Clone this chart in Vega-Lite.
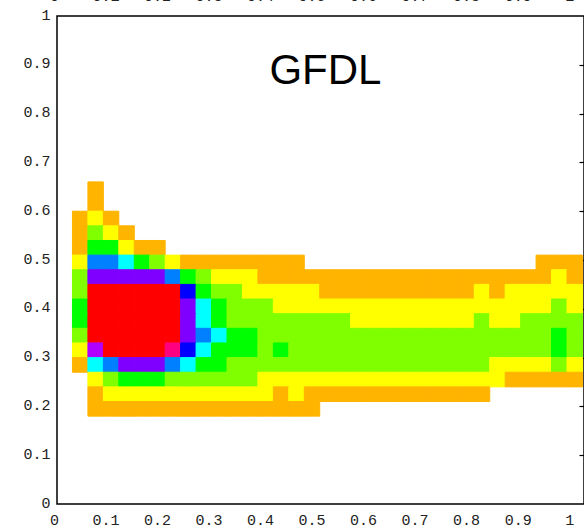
{
  "$schema": "https://vega.github.io/schema/vega-lite/v6.json",
  "width": 527,
  "height": 488,
  "autosize": {"type": "none"},
  "padding": {"left": 57, "top": 16, "right": 0, "bottom": 26},
  "background": "white",
  "config": {"view": {"stroke": "#000000", "strokeWidth": 1.5}},
  "layer": [
    {
      "data": {"values": [
        {"x":0.06,"x2":0.09,"y":0.63,"y2":0.66,"lev":1},
        {"x":0.06,"x2":0.09,"y":0.6,"y2":0.63,"lev":1},
        {"x":0.03,"x2":0.06,"y":0.57,"y2":0.6,"lev":1},
        {"x":0.06,"x2":0.09,"y":0.57,"y2":0.6,"lev":2},
        {"x":0.09,"x2":0.12,"y":0.57,"y2":0.6,"lev":1},
        {"x":0.03,"x2":0.06,"y":0.54,"y2":0.57,"lev":1},
        {"x":0.06,"x2":0.09,"y":0.54,"y2":0.57,"lev":3},
        {"x":0.09,"x2":0.12,"y":0.54,"y2":0.57,"lev":2},
        {"x":0.12,"x2":0.15,"y":0.54,"y2":0.57,"lev":1},
        {"x":0.03,"x2":0.06,"y":0.51,"y2":0.54,"lev":1},
        {"x":0.06,"x2":0.09,"y":0.51,"y2":0.54,"lev":4},
        {"x":0.09,"x2":0.12,"y":0.51,"y2":0.54,"lev":4},
        {"x":0.12,"x2":0.15,"y":0.51,"y2":0.54,"lev":2},
        {"x":0.15,"x2":0.18,"y":0.51,"y2":0.54,"lev":1},
        {"x":0.18,"x2":0.21,"y":0.51,"y2":0.54,"lev":1},
        {"x":0.03,"x2":0.06,"y":0.48,"y2":0.51,"lev":2},
        {"x":0.06,"x2":0.09,"y":0.48,"y2":0.51,"lev":6},
        {"x":0.09,"x2":0.12,"y":0.48,"y2":0.51,"lev":6},
        {"x":0.12,"x2":0.15,"y":0.48,"y2":0.51,"lev":5},
        {"x":0.15,"x2":0.18,"y":0.48,"y2":0.51,"lev":4},
        {"x":0.18,"x2":0.21,"y":0.48,"y2":0.51,"lev":3},
        {"x":0.21,"x2":0.24,"y":0.48,"y2":0.51,"lev":2},
        {"x":0.24,"x2":0.27,"y":0.48,"y2":0.51,"lev":1},
        {"x":0.27,"x2":0.3,"y":0.48,"y2":0.51,"lev":1},
        {"x":0.3,"x2":0.33,"y":0.48,"y2":0.51,"lev":1},
        {"x":0.33,"x2":0.36,"y":0.48,"y2":0.51,"lev":1},
        {"x":0.36,"x2":0.39,"y":0.48,"y2":0.51,"lev":1},
        {"x":0.39,"x2":0.42,"y":0.48,"y2":0.51,"lev":1},
        {"x":0.42,"x2":0.45,"y":0.48,"y2":0.51,"lev":1},
        {"x":0.45,"x2":0.48,"y":0.48,"y2":0.51,"lev":1},
        {"x":0.93,"x2":0.96,"y":0.48,"y2":0.51,"lev":1},
        {"x":0.96,"x2":0.99,"y":0.48,"y2":0.51,"lev":1},
        {"x":0.99,"x2":1.02,"y":0.48,"y2":0.51,"lev":1},

        {"x":0.03,"x2":0.06,"y":0.45,"y2":0.48,"lev":3},
        {"x":0.06,"x2":0.09,"y":0.45,"y2":0.48,"lev":8},
        {"x":0.09,"x2":0.12,"y":0.45,"y2":0.48,"lev":8},
        {"x":0.12,"x2":0.15,"y":0.45,"y2":0.48,"lev":8},
        {"x":0.15,"x2":0.18,"y":0.45,"y2":0.48,"lev":8},
        {"x":0.18,"x2":0.21,"y":0.45,"y2":0.48,"lev":8},
        {"x":0.21,"x2":0.24,"y":0.45,"y2":0.48,"lev":6},
        {"x":0.24,"x2":0.27,"y":0.45,"y2":0.48,"lev":4},
        {"x":0.27,"x2":0.3,"y":0.45,"y2":0.48,"lev":3},
        {"x":0.3,"x2":0.33,"y":0.45,"y2":0.48,"lev":2},
        {"x":0.33,"x2":0.36,"y":0.45,"y2":0.48,"lev":2},
        {"x":0.36,"x2":0.39,"y":0.45,"y2":0.48,"lev":2},
        {"x":0.39,"x2":0.42,"y":0.45,"y2":0.48,"lev":1},
        {"x":0.42,"x2":0.45,"y":0.45,"y2":0.48,"lev":1},
        {"x":0.45,"x2":0.48,"y":0.45,"y2":0.48,"lev":1},
        {"x":0.48,"x2":0.51,"y":0.45,"y2":0.48,"lev":1},
        {"x":0.51,"x2":0.54,"y":0.45,"y2":0.48,"lev":1},
        {"x":0.54,"x2":0.57,"y":0.45,"y2":0.48,"lev":1},
        {"x":0.57,"x2":0.6,"y":0.45,"y2":0.48,"lev":1},
        {"x":0.6,"x2":0.63,"y":0.45,"y2":0.48,"lev":1},
        {"x":0.63,"x2":0.66,"y":0.45,"y2":0.48,"lev":1},
        {"x":0.66,"x2":0.69,"y":0.45,"y2":0.48,"lev":1},
        {"x":0.69,"x2":0.72,"y":0.45,"y2":0.48,"lev":1},
        {"x":0.72,"x2":0.75,"y":0.45,"y2":0.48,"lev":1},
        {"x":0.75,"x2":0.78,"y":0.45,"y2":0.48,"lev":1},
        {"x":0.78,"x2":0.81,"y":0.45,"y2":0.48,"lev":1},
        {"x":0.81,"x2":0.84,"y":0.45,"y2":0.48,"lev":1},
        {"x":0.84,"x2":0.87,"y":0.45,"y2":0.48,"lev":1},
        {"x":0.87,"x2":0.9,"y":0.45,"y2":0.48,"lev":1},
        {"x":0.9,"x2":0.93,"y":0.45,"y2":0.48,"lev":1},
        {"x":0.93,"x2":0.96,"y":0.45,"y2":0.48,"lev":1},
        {"x":0.96,"x2":0.99,"y":0.45,"y2":0.48,"lev":2},
        {"x":0.99,"x2":1.02,"y":0.45,"y2":0.48,"lev":1},

        {"x":0.03,"x2":0.06,"y":0.42,"y2":0.45,"lev":3},
        {"x":0.06,"x2":0.09,"y":0.42,"y2":0.45,"lev":11},
        {"x":0.09,"x2":0.12,"y":0.42,"y2":0.45,"lev":11},
        {"x":0.12,"x2":0.15,"y":0.42,"y2":0.45,"lev":11},
        {"x":0.15,"x2":0.18,"y":0.42,"y2":0.45,"lev":11},
        {"x":0.18,"x2":0.21,"y":0.42,"y2":0.45,"lev":11},
        {"x":0.21,"x2":0.24,"y":0.42,"y2":0.45,"lev":11},
        {"x":0.24,"x2":0.27,"y":0.42,"y2":0.45,"lev":7},
        {"x":0.27,"x2":0.3,"y":0.42,"y2":0.45,"lev":4},
        {"x":0.3,"x2":0.33,"y":0.42,"y2":0.45,"lev":3},
        {"x":0.33,"x2":0.36,"y":0.42,"y2":0.45,"lev":3},
        {"x":0.36,"x2":0.39,"y":0.42,"y2":0.45,"lev":2},
        {"x":0.39,"x2":0.42,"y":0.42,"y2":0.45,"lev":2},
        {"x":0.42,"x2":0.45,"y":0.42,"y2":0.45,"lev":2},
        {"x":0.45,"x2":0.48,"y":0.42,"y2":0.45,"lev":2},
        {"x":0.48,"x2":0.51,"y":0.42,"y2":0.45,"lev":2},
        {"x":0.51,"x2":0.54,"y":0.42,"y2":0.45,"lev":1},
        {"x":0.54,"x2":0.57,"y":0.42,"y2":0.45,"lev":1},
        {"x":0.57,"x2":0.6,"y":0.42,"y2":0.45,"lev":1},
        {"x":0.6,"x2":0.63,"y":0.42,"y2":0.45,"lev":1},
        {"x":0.63,"x2":0.66,"y":0.42,"y2":0.45,"lev":1},
        {"x":0.66,"x2":0.69,"y":0.42,"y2":0.45,"lev":1},
        {"x":0.69,"x2":0.72,"y":0.42,"y2":0.45,"lev":1},
        {"x":0.72,"x2":0.75,"y":0.42,"y2":0.45,"lev":1},
        {"x":0.75,"x2":0.78,"y":0.42,"y2":0.45,"lev":1},
        {"x":0.78,"x2":0.81,"y":0.42,"y2":0.45,"lev":1},
        {"x":0.81,"x2":0.84,"y":0.42,"y2":0.45,"lev":2},
        {"x":0.84,"x2":0.87,"y":0.42,"y2":0.45,"lev":1},
        {"x":0.87,"x2":0.9,"y":0.42,"y2":0.45,"lev":2},
        {"x":0.9,"x2":0.93,"y":0.42,"y2":0.45,"lev":2},
        {"x":0.93,"x2":0.96,"y":0.42,"y2":0.45,"lev":2},
        {"x":0.96,"x2":0.99,"y":0.42,"y2":0.45,"lev":2},
        {"x":0.99,"x2":1.02,"y":0.42,"y2":0.45,"lev":2},

        {"x":0.03,"x2":0.06,"y":0.39,"y2":0.42,"lev":4},
        {"x":0.06,"x2":0.09,"y":0.39,"y2":0.42,"lev":11},
        {"x":0.09,"x2":0.12,"y":0.39,"y2":0.42,"lev":11},
        {"x":0.12,"x2":0.15,"y":0.39,"y2":0.42,"lev":11},
        {"x":0.15,"x2":0.18,"y":0.39,"y2":0.42,"lev":11},
        {"x":0.18,"x2":0.21,"y":0.39,"y2":0.42,"lev":11},
        {"x":0.21,"x2":0.24,"y":0.39,"y2":0.42,"lev":11},
        {"x":0.24,"x2":0.27,"y":0.39,"y2":0.42,"lev":8},
        {"x":0.27,"x2":0.3,"y":0.39,"y2":0.42,"lev":5},
        {"x":0.3,"x2":0.33,"y":0.39,"y2":0.42,"lev":4},
        {"x":0.33,"x2":0.36,"y":0.39,"y2":0.42,"lev":3},
        {"x":0.36,"x2":0.39,"y":0.39,"y2":0.42,"lev":3},
        {"x":0.39,"x2":0.42,"y":0.39,"y2":0.42,"lev":3},
        {"x":0.42,"x2":0.45,"y":0.39,"y2":0.42,"lev":2},
        {"x":0.45,"x2":0.48,"y":0.39,"y2":0.42,"lev":2},
        {"x":0.48,"x2":0.51,"y":0.39,"y2":0.42,"lev":2},
        {"x":0.51,"x2":0.54,"y":0.39,"y2":0.42,"lev":2},
        {"x":0.54,"x2":0.57,"y":0.39,"y2":0.42,"lev":2},
        {"x":0.57,"x2":0.6,"y":0.39,"y2":0.42,"lev":2},
        {"x":0.6,"x2":0.63,"y":0.39,"y2":0.42,"lev":2},
        {"x":0.63,"x2":0.66,"y":0.39,"y2":0.42,"lev":2},
        {"x":0.66,"x2":0.69,"y":0.39,"y2":0.42,"lev":2},
        {"x":0.69,"x2":0.72,"y":0.39,"y2":0.42,"lev":2},
        {"x":0.72,"x2":0.75,"y":0.39,"y2":0.42,"lev":2},
        {"x":0.75,"x2":0.78,"y":0.39,"y2":0.42,"lev":2},
        {"x":0.78,"x2":0.81,"y":0.39,"y2":0.42,"lev":2},
        {"x":0.81,"x2":0.84,"y":0.39,"y2":0.42,"lev":2},
        {"x":0.84,"x2":0.87,"y":0.39,"y2":0.42,"lev":2},
        {"x":0.87,"x2":0.9,"y":0.39,"y2":0.42,"lev":2},
        {"x":0.9,"x2":0.93,"y":0.39,"y2":0.42,"lev":2},
        {"x":0.93,"x2":0.96,"y":0.39,"y2":0.42,"lev":2},
        {"x":0.96,"x2":0.99,"y":0.39,"y2":0.42,"lev":3},
        {"x":0.99,"x2":1.02,"y":0.39,"y2":0.42,"lev":2},

        {"x":0.03,"x2":0.06,"y":0.36,"y2":0.39,"lev":4},
        {"x":0.06,"x2":0.09,"y":0.36,"y2":0.39,"lev":11},
        {"x":0.09,"x2":0.12,"y":0.36,"y2":0.39,"lev":11},
        {"x":0.12,"x2":0.15,"y":0.36,"y2":0.39,"lev":11},
        {"x":0.15,"x2":0.18,"y":0.36,"y2":0.39,"lev":11},
        {"x":0.18,"x2":0.21,"y":0.36,"y2":0.39,"lev":11},
        {"x":0.21,"x2":0.24,"y":0.36,"y2":0.39,"lev":11},
        {"x":0.24,"x2":0.27,"y":0.36,"y2":0.39,"lev":8},
        {"x":0.27,"x2":0.3,"y":0.36,"y2":0.39,"lev":5},
        {"x":0.3,"x2":0.33,"y":0.36,"y2":0.39,"lev":4},
        {"x":0.33,"x2":0.36,"y":0.36,"y2":0.39,"lev":3},
        {"x":0.36,"x2":0.39,"y":0.36,"y2":0.39,"lev":3},
        {"x":0.39,"x2":0.42,"y":0.36,"y2":0.39,"lev":3},
        {"x":0.42,"x2":0.45,"y":0.36,"y2":0.39,"lev":3},
        {"x":0.45,"x2":0.48,"y":0.36,"y2":0.39,"lev":3},
        {"x":0.48,"x2":0.51,"y":0.36,"y2":0.39,"lev":3},
        {"x":0.51,"x2":0.54,"y":0.36,"y2":0.39,"lev":3},
        {"x":0.54,"x2":0.57,"y":0.36,"y2":0.39,"lev":3},
        {"x":0.57,"x2":0.6,"y":0.36,"y2":0.39,"lev":2},
        {"x":0.6,"x2":0.63,"y":0.36,"y2":0.39,"lev":2},
        {"x":0.63,"x2":0.66,"y":0.36,"y2":0.39,"lev":2},
        {"x":0.66,"x2":0.69,"y":0.36,"y2":0.39,"lev":2},
        {"x":0.69,"x2":0.72,"y":0.36,"y2":0.39,"lev":2},
        {"x":0.72,"x2":0.75,"y":0.36,"y2":0.39,"lev":2},
        {"x":0.75,"x2":0.78,"y":0.36,"y2":0.39,"lev":2},
        {"x":0.78,"x2":0.81,"y":0.36,"y2":0.39,"lev":2},
        {"x":0.81,"x2":0.84,"y":0.36,"y2":0.39,"lev":3},
        {"x":0.84,"x2":0.87,"y":0.36,"y2":0.39,"lev":2},
        {"x":0.87,"x2":0.9,"y":0.36,"y2":0.39,"lev":2},
        {"x":0.9,"x2":0.93,"y":0.36,"y2":0.39,"lev":3},
        {"x":0.93,"x2":0.96,"y":0.36,"y2":0.39,"lev":3},
        {"x":0.96,"x2":0.99,"y":0.36,"y2":0.39,"lev":3},
        {"x":0.99,"x2":1.02,"y":0.36,"y2":0.39,"lev":3},

        {"x":0.03,"x2":0.06,"y":0.33,"y2":0.36,"lev":3},
        {"x":0.06,"x2":0.09,"y":0.33,"y2":0.36,"lev":11},
        {"x":0.09,"x2":0.12,"y":0.33,"y2":0.36,"lev":11},
        {"x":0.12,"x2":0.15,"y":0.33,"y2":0.36,"lev":11},
        {"x":0.15,"x2":0.18,"y":0.33,"y2":0.36,"lev":11},
        {"x":0.18,"x2":0.21,"y":0.33,"y2":0.36,"lev":11},
        {"x":0.21,"x2":0.24,"y":0.33,"y2":0.36,"lev":11},
        {"x":0.24,"x2":0.27,"y":0.33,"y2":0.36,"lev":8},
        {"x":0.27,"x2":0.3,"y":0.33,"y2":0.36,"lev":6},
        {"x":0.3,"x2":0.33,"y":0.33,"y2":0.36,"lev":5},
        {"x":0.33,"x2":0.36,"y":0.33,"y2":0.36,"lev":4},
        {"x":0.36,"x2":0.39,"y":0.33,"y2":0.36,"lev":4},
        {"x":0.39,"x2":0.42,"y":0.33,"y2":0.36,"lev":3},
        {"x":0.42,"x2":0.45,"y":0.33,"y2":0.36,"lev":3},
        {"x":0.45,"x2":0.48,"y":0.33,"y2":0.36,"lev":3},
        {"x":0.48,"x2":0.51,"y":0.33,"y2":0.36,"lev":3},
        {"x":0.51,"x2":0.54,"y":0.33,"y2":0.36,"lev":3},
        {"x":0.54,"x2":0.57,"y":0.33,"y2":0.36,"lev":3},
        {"x":0.57,"x2":0.6,"y":0.33,"y2":0.36,"lev":3},
        {"x":0.6,"x2":0.63,"y":0.33,"y2":0.36,"lev":3},
        {"x":0.63,"x2":0.66,"y":0.33,"y2":0.36,"lev":3},
        {"x":0.66,"x2":0.69,"y":0.33,"y2":0.36,"lev":3},
        {"x":0.69,"x2":0.72,"y":0.33,"y2":0.36,"lev":3},
        {"x":0.72,"x2":0.75,"y":0.33,"y2":0.36,"lev":3},
        {"x":0.75,"x2":0.78,"y":0.33,"y2":0.36,"lev":3},
        {"x":0.78,"x2":0.81,"y":0.33,"y2":0.36,"lev":3},
        {"x":0.81,"x2":0.84,"y":0.33,"y2":0.36,"lev":3},
        {"x":0.84,"x2":0.87,"y":0.33,"y2":0.36,"lev":3},
        {"x":0.87,"x2":0.9,"y":0.33,"y2":0.36,"lev":3},
        {"x":0.9,"x2":0.93,"y":0.33,"y2":0.36,"lev":3},
        {"x":0.93,"x2":0.96,"y":0.33,"y2":0.36,"lev":3},
        {"x":0.96,"x2":0.99,"y":0.33,"y2":0.36,"lev":4},
        {"x":0.99,"x2":1.02,"y":0.33,"y2":0.36,"lev":3},

        {"x":0.03,"x2":0.06,"y":0.3,"y2":0.33,"lev":2},
        {"x":0.06,"x2":0.09,"y":0.3,"y2":0.33,"lev":9},
        {"x":0.09,"x2":0.12,"y":0.3,"y2":0.33,"lev":11},
        {"x":0.12,"x2":0.15,"y":0.3,"y2":0.33,"lev":11},
        {"x":0.15,"x2":0.18,"y":0.3,"y2":0.33,"lev":11},
        {"x":0.18,"x2":0.21,"y":0.3,"y2":0.33,"lev":11},
        {"x":0.21,"x2":0.24,"y":0.3,"y2":0.33,"lev":10},
        {"x":0.24,"x2":0.27,"y":0.3,"y2":0.33,"lev":7},
        {"x":0.27,"x2":0.3,"y":0.3,"y2":0.33,"lev":5},
        {"x":0.3,"x2":0.33,"y":0.3,"y2":0.33,"lev":4},
        {"x":0.33,"x2":0.36,"y":0.3,"y2":0.33,"lev":4},
        {"x":0.36,"x2":0.39,"y":0.3,"y2":0.33,"lev":4},
        {"x":0.39,"x2":0.42,"y":0.3,"y2":0.33,"lev":3},
        {"x":0.42,"x2":0.45,"y":0.3,"y2":0.33,"lev":4},
        {"x":0.45,"x2":0.48,"y":0.3,"y2":0.33,"lev":3},
        {"x":0.48,"x2":0.51,"y":0.3,"y2":0.33,"lev":3},
        {"x":0.51,"x2":0.54,"y":0.3,"y2":0.33,"lev":3},
        {"x":0.54,"x2":0.57,"y":0.3,"y2":0.33,"lev":3},
        {"x":0.57,"x2":0.6,"y":0.3,"y2":0.33,"lev":3},
        {"x":0.6,"x2":0.63,"y":0.3,"y2":0.33,"lev":3},
        {"x":0.63,"x2":0.66,"y":0.3,"y2":0.33,"lev":3},
        {"x":0.66,"x2":0.69,"y":0.3,"y2":0.33,"lev":3},
        {"x":0.69,"x2":0.72,"y":0.3,"y2":0.33,"lev":3},
        {"x":0.72,"x2":0.75,"y":0.3,"y2":0.33,"lev":3},
        {"x":0.75,"x2":0.78,"y":0.3,"y2":0.33,"lev":3},
        {"x":0.78,"x2":0.81,"y":0.3,"y2":0.33,"lev":3},
        {"x":0.81,"x2":0.84,"y":0.3,"y2":0.33,"lev":3},
        {"x":0.84,"x2":0.87,"y":0.3,"y2":0.33,"lev":3},
        {"x":0.87,"x2":0.9,"y":0.3,"y2":0.33,"lev":3},
        {"x":0.9,"x2":0.93,"y":0.3,"y2":0.33,"lev":3},
        {"x":0.93,"x2":0.96,"y":0.3,"y2":0.33,"lev":3},
        {"x":0.96,"x2":0.99,"y":0.3,"y2":0.33,"lev":4},
        {"x":0.99,"x2":1.02,"y":0.3,"y2":0.33,"lev":3},

        {"x":0.03,"x2":0.06,"y":0.27,"y2":0.3,"lev":1},
        {"x":0.06,"x2":0.09,"y":0.27,"y2":0.3,"lev":5},
        {"x":0.09,"x2":0.12,"y":0.27,"y2":0.3,"lev":6},
        {"x":0.12,"x2":0.15,"y":0.27,"y2":0.3,"lev":8},
        {"x":0.15,"x2":0.18,"y":0.27,"y2":0.3,"lev":8},
        {"x":0.18,"x2":0.21,"y":0.27,"y2":0.3,"lev":8},
        {"x":0.21,"x2":0.24,"y":0.27,"y2":0.3,"lev":6},
        {"x":0.24,"x2":0.27,"y":0.27,"y2":0.3,"lev":5},
        {"x":0.27,"x2":0.3,"y":0.27,"y2":0.3,"lev":4},
        {"x":0.3,"x2":0.33,"y":0.27,"y2":0.3,"lev":4},
        {"x":0.33,"x2":0.36,"y":0.27,"y2":0.3,"lev":3},
        {"x":0.36,"x2":0.39,"y":0.27,"y2":0.3,"lev":3},
        {"x":0.39,"x2":0.42,"y":0.27,"y2":0.3,"lev":3},
        {"x":0.42,"x2":0.45,"y":0.27,"y2":0.3,"lev":3},
        {"x":0.45,"x2":0.48,"y":0.27,"y2":0.3,"lev":3},
        {"x":0.48,"x2":0.51,"y":0.27,"y2":0.3,"lev":3},
        {"x":0.51,"x2":0.54,"y":0.27,"y2":0.3,"lev":3},
        {"x":0.54,"x2":0.57,"y":0.27,"y2":0.3,"lev":3},
        {"x":0.57,"x2":0.6,"y":0.27,"y2":0.3,"lev":3},
        {"x":0.6,"x2":0.63,"y":0.27,"y2":0.3,"lev":3},
        {"x":0.63,"x2":0.66,"y":0.27,"y2":0.3,"lev":3},
        {"x":0.66,"x2":0.69,"y":0.27,"y2":0.3,"lev":3},
        {"x":0.69,"x2":0.72,"y":0.27,"y2":0.3,"lev":3},
        {"x":0.72,"x2":0.75,"y":0.27,"y2":0.3,"lev":3},
        {"x":0.75,"x2":0.78,"y":0.27,"y2":0.3,"lev":3},
        {"x":0.78,"x2":0.81,"y":0.27,"y2":0.3,"lev":3},
        {"x":0.81,"x2":0.84,"y":0.27,"y2":0.3,"lev":3},
        {"x":0.84,"x2":0.87,"y":0.27,"y2":0.3,"lev":2},
        {"x":0.87,"x2":0.9,"y":0.27,"y2":0.3,"lev":2},
        {"x":0.9,"x2":0.93,"y":0.27,"y2":0.3,"lev":2},
        {"x":0.93,"x2":0.96,"y":0.27,"y2":0.3,"lev":2},
        {"x":0.96,"x2":0.99,"y":0.27,"y2":0.3,"lev":3},
        {"x":0.99,"x2":1.02,"y":0.27,"y2":0.3,"lev":2},

        {"x":0.06,"x2":0.09,"y":0.24,"y2":0.27,"lev":2},
        {"x":0.09,"x2":0.12,"y":0.24,"y2":0.27,"lev":3},
        {"x":0.12,"x2":0.15,"y":0.24,"y2":0.27,"lev":4},
        {"x":0.15,"x2":0.18,"y":0.24,"y2":0.27,"lev":4},
        {"x":0.18,"x2":0.21,"y":0.24,"y2":0.27,"lev":4},
        {"x":0.21,"x2":0.24,"y":0.24,"y2":0.27,"lev":3},
        {"x":0.24,"x2":0.27,"y":0.24,"y2":0.27,"lev":3},
        {"x":0.27,"x2":0.3,"y":0.24,"y2":0.27,"lev":3},
        {"x":0.3,"x2":0.33,"y":0.24,"y2":0.27,"lev":3},
        {"x":0.33,"x2":0.36,"y":0.24,"y2":0.27,"lev":3},
        {"x":0.36,"x2":0.39,"y":0.24,"y2":0.27,"lev":3},
        {"x":0.39,"x2":0.42,"y":0.24,"y2":0.27,"lev":2},
        {"x":0.42,"x2":0.45,"y":0.24,"y2":0.27,"lev":2},
        {"x":0.45,"x2":0.48,"y":0.24,"y2":0.27,"lev":2},
        {"x":0.48,"x2":0.51,"y":0.24,"y2":0.27,"lev":2},
        {"x":0.51,"x2":0.54,"y":0.24,"y2":0.27,"lev":2},
        {"x":0.54,"x2":0.57,"y":0.24,"y2":0.27,"lev":2},
        {"x":0.57,"x2":0.6,"y":0.24,"y2":0.27,"lev":2},
        {"x":0.6,"x2":0.63,"y":0.24,"y2":0.27,"lev":2},
        {"x":0.63,"x2":0.66,"y":0.24,"y2":0.27,"lev":2},
        {"x":0.66,"x2":0.69,"y":0.24,"y2":0.27,"lev":2},
        {"x":0.69,"x2":0.72,"y":0.24,"y2":0.27,"lev":2},
        {"x":0.72,"x2":0.75,"y":0.24,"y2":0.27,"lev":2},
        {"x":0.75,"x2":0.78,"y":0.24,"y2":0.27,"lev":2},
        {"x":0.78,"x2":0.81,"y":0.24,"y2":0.27,"lev":2},
        {"x":0.81,"x2":0.84,"y":0.24,"y2":0.27,"lev":2},
        {"x":0.84,"x2":0.87,"y":0.24,"y2":0.27,"lev":2},
        {"x":0.87,"x2":0.9,"y":0.24,"y2":0.27,"lev":1},
        {"x":0.9,"x2":0.93,"y":0.24,"y2":0.27,"lev":1},
        {"x":0.93,"x2":0.96,"y":0.24,"y2":0.27,"lev":1},
        {"x":0.96,"x2":0.99,"y":0.24,"y2":0.27,"lev":1},
        {"x":0.99,"x2":1.02,"y":0.24,"y2":0.27,"lev":1},

        {"x":0.06,"x2":0.09,"y":0.21,"y2":0.24,"lev":1},
        {"x":0.09,"x2":0.12,"y":0.21,"y2":0.24,"lev":2},
        {"x":0.12,"x2":0.15,"y":0.21,"y2":0.24,"lev":2},
        {"x":0.15,"x2":0.18,"y":0.21,"y2":0.24,"lev":2},
        {"x":0.18,"x2":0.21,"y":0.21,"y2":0.24,"lev":2},
        {"x":0.21,"x2":0.24,"y":0.21,"y2":0.24,"lev":2},
        {"x":0.24,"x2":0.27,"y":0.21,"y2":0.24,"lev":2},
        {"x":0.27,"x2":0.3,"y":0.21,"y2":0.24,"lev":2},
        {"x":0.3,"x2":0.33,"y":0.21,"y2":0.24,"lev":2},
        {"x":0.33,"x2":0.36,"y":0.21,"y2":0.24,"lev":2},
        {"x":0.36,"x2":0.39,"y":0.21,"y2":0.24,"lev":2},
        {"x":0.39,"x2":0.42,"y":0.21,"y2":0.24,"lev":2},
        {"x":0.42,"x2":0.45,"y":0.21,"y2":0.24,"lev":1},
        {"x":0.45,"x2":0.48,"y":0.21,"y2":0.24,"lev":2},
        {"x":0.48,"x2":0.51,"y":0.21,"y2":0.24,"lev":1},
        {"x":0.51,"x2":0.54,"y":0.21,"y2":0.24,"lev":1},
        {"x":0.54,"x2":0.57,"y":0.21,"y2":0.24,"lev":1},
        {"x":0.57,"x2":0.6,"y":0.21,"y2":0.24,"lev":1},
        {"x":0.6,"x2":0.63,"y":0.21,"y2":0.24,"lev":1},
        {"x":0.63,"x2":0.66,"y":0.21,"y2":0.24,"lev":1},
        {"x":0.66,"x2":0.69,"y":0.21,"y2":0.24,"lev":1},
        {"x":0.69,"x2":0.72,"y":0.21,"y2":0.24,"lev":1},
        {"x":0.72,"x2":0.75,"y":0.21,"y2":0.24,"lev":1},
        {"x":0.75,"x2":0.78,"y":0.21,"y2":0.24,"lev":1},
        {"x":0.78,"x2":0.81,"y":0.21,"y2":0.24,"lev":1},
        {"x":0.81,"x2":0.84,"y":0.21,"y2":0.24,"lev":1},

        {"x":0.06,"x2":0.09,"y":0.18,"y2":0.21,"lev":1},
        {"x":0.09,"x2":0.12,"y":0.18,"y2":0.21,"lev":1},
        {"x":0.12,"x2":0.15,"y":0.18,"y2":0.21,"lev":1},
        {"x":0.15,"x2":0.18,"y":0.18,"y2":0.21,"lev":1},
        {"x":0.18,"x2":0.21,"y":0.18,"y2":0.21,"lev":1},
        {"x":0.21,"x2":0.24,"y":0.18,"y2":0.21,"lev":1},
        {"x":0.24,"x2":0.27,"y":0.18,"y2":0.21,"lev":1},
        {"x":0.27,"x2":0.3,"y":0.18,"y2":0.21,"lev":1},
        {"x":0.3,"x2":0.33,"y":0.18,"y2":0.21,"lev":1},
        {"x":0.33,"x2":0.36,"y":0.18,"y2":0.21,"lev":1},
        {"x":0.36,"x2":0.39,"y":0.18,"y2":0.21,"lev":1},
        {"x":0.39,"x2":0.42,"y":0.18,"y2":0.21,"lev":1},
        {"x":0.42,"x2":0.45,"y":0.18,"y2":0.21,"lev":1},
        {"x":0.45,"x2":0.48,"y":0.18,"y2":0.21,"lev":1},
        {"x":0.48,"x2":0.51,"y":0.18,"y2":0.21,"lev":1}
      ]},
      "mark": {"type": "rect", "strokeWidth": 1, "strokeOpacity": 1, "fillOpacity": 1},
      "encoding": {
        "x": {"field": "x", "type": "quantitative",
              "scale": {"domain": [0, 1.023], "nice": false, "zero": false},
              "axis": {"orient": "bottom", "values": [0, 0.1, 0.2, 0.3, 0.4, 0.5, 0.6, 0.7, 0.8, 0.9, 1], "format": "~g",
                       "labelFont": "Liberation Mono", "labelFontSize": 15, "labelColor": "#222222",
                       "tickSize": 0, "domain": false, "grid": false, "title": null, "labelPadding": 8,
                       "labelOffset": -3, "labelFlush": false, "labelOverlap": false}},
        "x2": {"field": "x2"},
        "y": {"field": "y", "type": "quantitative",
              "scale": {"domain": [0, 1], "nice": false, "zero": false},
              "axis": {"orient": "left", "values": [0, 0.1, 0.2, 0.3, 0.4, 0.5, 0.6, 0.7, 0.8, 0.9, 1], "format": "~g",
                       "labelFont": "Liberation Mono", "labelFontSize": 15, "labelColor": "#222222",
                       "tickSize": 0, "domain": false, "grid": false, "title": null, "labelPadding": 7,
                       "labelOffset": -2, "labelFlush": false, "labelOverlap": false}},
        "y2": {"field": "y2"},
        "color": {"field": "lev", "type": "ordinal",
                  "scale": {"domain": [1, 2, 3, 4, 5, 6, 7, 8, 9, 10, 11],
                            "range": ["#FFB400", "#FFFF00", "#80FF00", "#00FF00", "#00FFFF", "#0080FF", "#0000FF", "#8000FF", "#B000FF", "#FF0080", "#FF0000"]},
                  "legend": null},
        "stroke": {"field": "lev", "type": "ordinal",
                  "scale": {"domain": [1, 2, 3, 4, 5, 6, 7, 8, 9, 10, 11],
                            "range": ["#FFB400", "#FFFF00", "#80FF00", "#00FF00", "#00FFFF", "#0080FF", "#0000FF", "#8000FF", "#B000FF", "#FF0080", "#FF0000"]},
                  "legend": null}
      }
    },
    {
      "data": {"values": [{"model": "GFDL"}]},
      "mark": {"type": "text", "font": "Liberation Sans", "fontSize": 42, "color": "#000000", "align": "center", "baseline": "middle"},
      "encoding": {
        "x": {"datum": 0.521, "type": "quantitative",
              "axis": {"orient": "top", "values": [0, 0.1, 0.2, 0.3, 0.4, 0.5, 0.6, 0.7, 0.8, 0.9, 1], "format": "~g",
                       "labelFont": "Liberation Mono", "labelFontSize": 15, "labelColor": "#222222",
                       "tickSize": 0, "domain": false, "grid": false, "title": null, "labelPadding": 13,
                       "labelOffset": -3, "labelFlush": false, "labelOverlap": false}},
        "y": {"datum": 0.888, "type": "quantitative",
              "axis": {"orient": "right", "values": [0.1, 0.2, 0.3, 0.4, 0.5, 0.6, 0.7, 0.8, 0.9], "labels": false,
                       "tickSize": 5, "offset": -5, "tickColor": "#000000", "tickWidth": 1.2,
                       "domain": false, "grid": false, "title": null}},
        "text": {"field": "model"}
      }
    }
  ],
  "resolve": {"axis": {"x": "independent", "y": "independent"}}
}
